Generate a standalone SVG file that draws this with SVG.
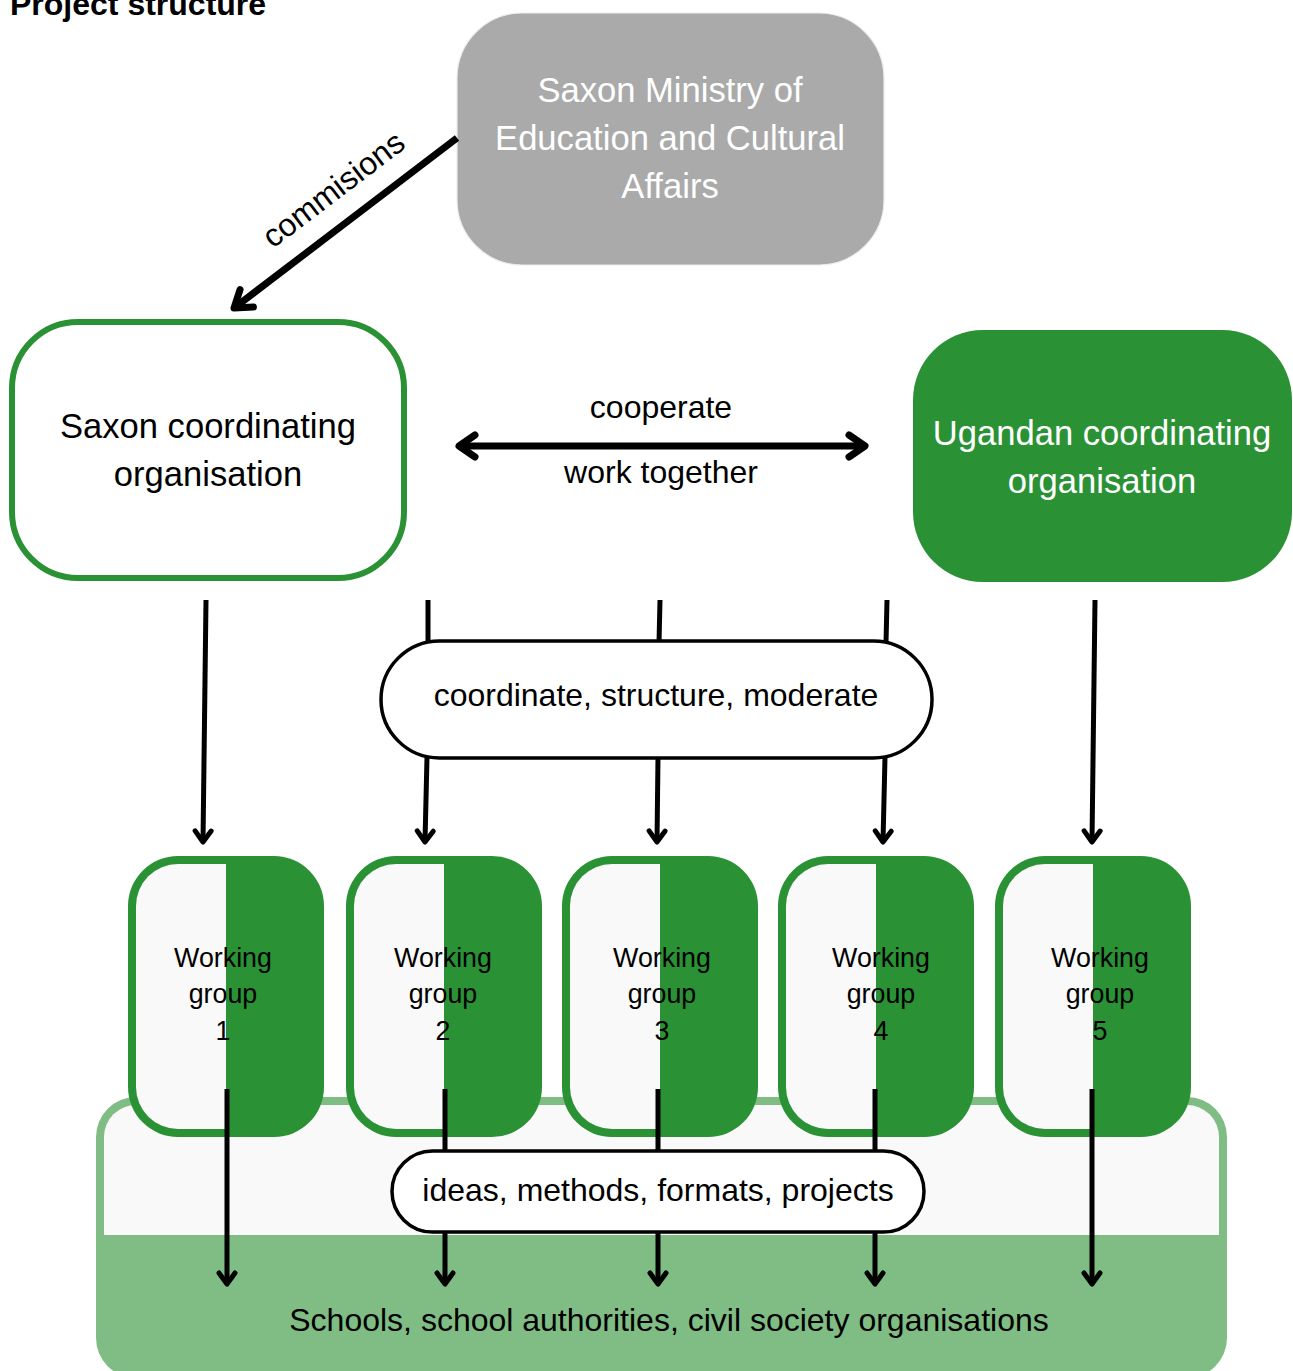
<svg xmlns="http://www.w3.org/2000/svg" width="1293" height="1371" viewBox="0 0 1293 1371">
<style>
text{font-family:"Liberation Sans",Arial,sans-serif;}
.title{font-size:32px;font-weight:bold;fill:#000;}
.big{font-size:34.6px;text-anchor:middle;}
.lbl{font-size:32px;text-anchor:middle;fill:#000;}
.wg{font-size:26.8px;text-anchor:middle;fill:#000;}
.white{fill:#fff;}
.thick{stroke:#000;stroke-width:7;fill:none;}
.thin{stroke:#000;stroke-width:5;fill:none;}
.pill{fill:#fff;stroke:#000;stroke-width:3.5;}
</style>
<defs>
<marker id="headL" markerUnits="userSpaceOnUse" viewBox="-24 -20 30 40" refX="0" refY="0" markerWidth="30" markerHeight="40" orient="auto-start-reverse" overflow="visible">
<path d="M-16,-11 L0,0 L-16,11" fill="none" stroke="#000" stroke-width="7" stroke-linecap="round" stroke-linejoin="round"/>
</marker>
<marker id="headS" markerUnits="userSpaceOnUse" viewBox="-16 -12 20 24" refX="0" refY="0" markerWidth="20" markerHeight="24" orient="auto" overflow="visible">
<path d="M-11,-8 L0,0 L-11,8" fill="none" stroke="#000" stroke-width="5" stroke-linecap="round" stroke-linejoin="round"/>
</marker>
<g id="wgShape">
<rect x="0" y="0" width="196" height="281" rx="50" fill="#2a9235"/>
<path d="M98,8 H50 A42,42 0 0 0 8,50 V231 A42,42 0 0 0 50,273 H98 Z" fill="#f9f9f9"/>
</g>
</defs>
<rect width="1293" height="1371" fill="#fff"/>
<text class="title" x="10" y="15">Project structure</text>

<g id="target-container">
<rect x="96" y="1097" width="1131" height="281" rx="40" fill="#7fbd84"/>
<path d="M104,1235 V1137 A32,32 0 0 1 136,1105 H1187 A32,32 0 0 1 1219,1137 V1235 Z" fill="#f9f9f9"/>
<text class="lbl" x="669" y="1331">Schools, school authorities, civil society organisations</text>
</g>

<g id="ministry">
<rect x="457" y="13" width="427" height="252" rx="65" fill="#aaaaaa" stroke="#ececec" stroke-width="1.2"/>
<text class="big white" x="670" y="102">Saxon Ministry of</text>
<text class="big white" x="670" y="150">Education and Cultural</text>
<text class="big white" x="670" y="198">Affairs</text>
</g>

<g id="saxon-org">
<rect x="12" y="322" width="392" height="256" rx="66" fill="#fff" stroke="#2a9235" stroke-width="6"/>
<text class="big" x="208" y="438">Saxon coordinating</text>
<text class="big" x="208" y="486">organisation</text>
</g>

<g id="ugandan-org">
<rect x="913" y="330" width="379" height="252" rx="70" fill="#2a9235"/>
<text class="big white" x="1102" y="445">Ugandan coordinating</text>
<text class="big white" x="1102" y="493">organisation</text>
</g>

<g id="wg1"><use href="#wgShape" x="128" y="856"/>
<text class="wg" x="223" y="967">Working</text><text class="wg" x="223" y="1003">group</text><text class="wg" x="223" y="1040">1</text></g>
<g id="wg2"><use href="#wgShape" x="346" y="856"/>
<text class="wg" x="443" y="967">Working</text><text class="wg" x="443" y="1003">group</text><text class="wg" x="443" y="1040">2</text></g>
<g id="wg3"><use href="#wgShape" x="562" y="856"/>
<text class="wg" x="662" y="967">Working</text><text class="wg" x="662" y="1003">group</text><text class="wg" x="662" y="1040">3</text></g>
<g id="wg4"><use href="#wgShape" x="778" y="856"/>
<text class="wg" x="881" y="967">Working</text><text class="wg" x="881" y="1003">group</text><text class="wg" x="881" y="1040">4</text></g>
<g id="wg5"><use href="#wgShape" x="995" y="856"/>
<text class="wg" x="1100" y="967">Working</text><text class="wg" x="1100" y="1003">group</text><text class="wg" x="1100" y="1040">5</text></g>

<g id="connectors">
<line class="thick" x1="457" y1="138" x2="234" y2="308" marker-end="url(#headL)"/>
<text class="lbl" transform="translate(340,198) rotate(-37.2)" x="0" y="0">commisions</text>
<line class="thick" x1="459" y1="446" x2="865" y2="446" marker-start="url(#headL)" marker-end="url(#headL)"/>
<text class="lbl" x="661" y="418">cooperate</text>
<text class="lbl" x="661" y="483">work together</text>

<line class="thin" x1="206" y1="600" x2="203" y2="842" marker-end="url(#headS)"/>
<line class="thin" x1="428" y1="600" x2="428" y2="643"/>
<line class="thin" x1="427" y1="757" x2="425" y2="842" marker-end="url(#headS)"/>
<line class="thin" x1="660" y1="600" x2="659" y2="643"/>
<line class="thin" x1="658" y1="757" x2="657" y2="842" marker-end="url(#headS)"/>
<line class="thin" x1="887" y1="600" x2="886" y2="643"/>
<line class="thin" x1="885" y1="757" x2="883" y2="842" marker-end="url(#headS)"/>
<line class="thin" x1="1095" y1="600" x2="1092" y2="842" marker-end="url(#headS)"/>

<line class="thin" x1="227" y1="1089" x2="227" y2="1284" marker-end="url(#headS)"/>
<line class="thin" x1="445" y1="1089" x2="445" y2="1152"/>
<line class="thin" x1="445" y1="1231" x2="445" y2="1284" marker-end="url(#headS)"/>
<line class="thin" x1="658" y1="1089" x2="658" y2="1152"/>
<line class="thin" x1="658" y1="1231" x2="658" y2="1284" marker-end="url(#headS)"/>
<line class="thin" x1="875" y1="1089" x2="875" y2="1152"/>
<line class="thin" x1="875" y1="1231" x2="875" y2="1284" marker-end="url(#headS)"/>
<line class="thin" x1="1092" y1="1089" x2="1092" y2="1284" marker-end="url(#headS)"/>
</g>

<g id="coordinate-pill">
<rect class="pill" x="381" y="641" width="551" height="117" rx="58.5"/>
<text class="lbl" x="656" y="706">coordinate, structure, moderate</text>
</g>

<g id="ideas-pill">
<rect class="pill" x="392" y="1151" width="532" height="81" rx="40.5"/>
<text class="lbl" x="658" y="1201">ideas, methods, formats, projects</text>
</g>
</svg>
